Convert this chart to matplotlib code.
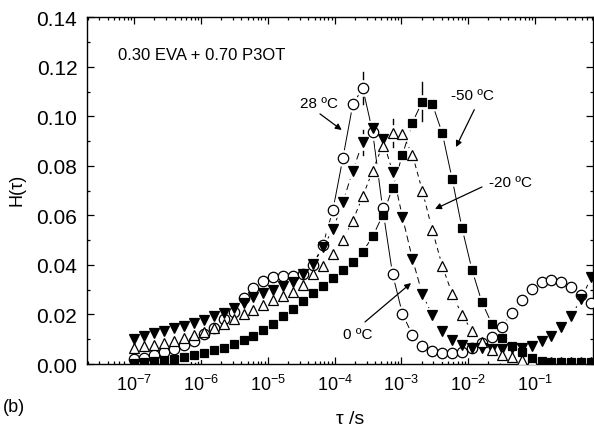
import matplotlib
matplotlib.use("Agg")
import matplotlib.pyplot as plt
import numpy as np
from matplotlib.ticker import LogLocator, MultipleLocator, NullFormatter

plt.rcParams["font.family"] = ["Liberation Sans", "DejaVu Sans"]
plt.rcParams["mathtext.default"] = "regular"

# log10(tau / s) of the relaxation-time grid (shared by all four curves)
log_tau = [-7.000, -6.851, -6.703, -6.554, -6.405, -6.257, -6.108, -5.959,
           -5.810, -5.662, -5.513, -5.364, -5.216, -5.067, -4.918, -4.770,
           -4.621, -4.472, -4.323, -4.175, -4.026, -3.877, -3.729, -3.580,
           -3.431, -3.283, -3.134, -2.985, -2.836, -2.688, -2.539, -2.390,
           -2.242, -2.093, -1.944, -1.796, -1.647, -1.498, -1.349, -1.201,
           -1.052, -0.903, -0.755, -0.606, -0.457, -0.309, -0.160]

# H(tau) at 28 C (open circles)
h_28 = [0.0020, 0.0024, 0.0038, 0.0050, 0.0060, 0.0078, 0.0094, 0.0121, 0.0145, 0.0182,
        0.0212, 0.0267, 0.0307, 0.0337, 0.0353, 0.0357, 0.0357, 0.0364, 0.0400, 0.0482,
        0.0622, 0.0832, 0.1048, 0.1114, 0.0936, 0.0630, 0.0364, 0.0202, 0.0117, 0.0074,
        0.0053, 0.0044, 0.0043, 0.0050, 0.0065, 0.0085, 0.0110, 0.0150, 0.0205, 0.0259,
        0.0302, 0.0333, 0.0341, 0.0333, 0.0310, 0.0279, 0.0246]
# 0 C (filled down triangles)
h_0 = [0.0101, 0.0115, 0.0124, 0.0135, 0.0144, 0.0155, 0.0166, 0.0179, 0.0193, 0.0206,
       0.0226, 0.0246, 0.0270, 0.0285, 0.0300, 0.0315, 0.0330, 0.0364, 0.0404, 0.0471,
       0.0545, 0.0653, 0.0781, 0.0896, 0.0952, 0.0909, 0.0777, 0.0593, 0.0424, 0.0283,
       0.0198, 0.0135, 0.0098, 0.0077, 0.0065, 0.0065, 0.0061, 0.0061, 0.0065, 0.0065,
       0.0074, 0.0094, 0.0115, 0.0148, 0.0195, 0.0263, 0.0350]
# -20 C (open up triangles)
h_m20 = [0.0063, 0.0071, 0.0077, 0.0085, 0.0094, 0.0105, 0.0117, 0.0128, 0.0144, 0.0162,
         0.0180, 0.0200, 0.0220, 0.0240, 0.0260, 0.0276, 0.0292, 0.0320, 0.0364, 0.0397,
         0.0444, 0.0502, 0.0579, 0.0677, 0.0781, 0.0882, 0.0933, 0.0929, 0.0845, 0.0700,
         0.0541, 0.0397, 0.0283, 0.0198, 0.0133, 0.0089, 0.0058, 0.0038, 0.0027, 0.0016,
         0.0016, 0.0008, 0.0007, 0.0007, 0.0007, 0.0007, 0.0007]
# -50 C (filled squares)
h_m50 = [0.0005, 0.0008, 0.0012, 0.0017, 0.0022, 0.0030, 0.0037, 0.0046, 0.0055, 0.0066,
         0.0080, 0.0095, 0.0115, 0.0137, 0.0163, 0.0192, 0.0222, 0.0253, 0.0286, 0.0316,
         0.0346, 0.0378, 0.0410, 0.0453, 0.0515, 0.0600, 0.0710, 0.0845, 0.0975, 0.1060,
         0.1050, 0.0933, 0.0748, 0.0548, 0.0380, 0.0250, 0.0162, 0.0104, 0.0074, 0.0047,
         0.0023, 0.0012, 0.0009, 0.0008, 0.0008, 0.0008, 0.0008]

# error bar on the peak point of each curve: (grid index, half-height)
err_28 = (23, 0.0065)
err_0 = (23, 0.0050)
err_m20 = (26, 0.0055)
err_m50 = (29, 0.0080)

decades = [-7, -6, -5, -4, -3, -2, -1]

tau = 10.0 ** np.array(log_tau)

fig = plt.figure(figsize=(5.94, 4.31), dpi=100)
ax = fig.add_axes([0.1465, 0.1531, 0.8519, 0.8044])

series = [
    (h_28, "o", "white", 7.5, "-", err_28),
    (h_0, "v", "black", 7.5, (0, (7, 4)), err_0),
    (h_m20, "^", "white", 7.5, (0, (5, 4)), err_m20),
    (h_m50, "s", "black", 6.0, "-", err_m50),
]

for h, mk, fc, ms, ls, (i, e) in series:
    ax.plot(tau, h, color="black", lw=0.7, ls=ls, zorder=1)
    ax.plot([tau[i], tau[i]], [h[i] - e, h[i] + e], color="black", lw=1.0, zorder=1)
# white halos leave a gap in the lines around each point
for h, mk, fc, ms, ls, _ in series:
    ax.plot(tau, h, ls="none", marker="o", ms=ms + 4.5, mfc="white", mec="none", zorder=2)
for h, mk, fc, ms, ls, _ in series:
    ax.plot(tau, h, ls="none", marker=mk, ms=ms, mfc=fc, mec="black", mew=0.9, zorder=3)

ax.set_xscale("log")
ax.set_xlim(10 ** -7.708, 10 ** -0.132)
ax.set_ylim(0, 0.14)
ax.set_xticks([10.0 ** d for d in decades])
ax.xaxis.set_minor_locator(LogLocator(base=10, subs=np.arange(2, 10), numticks=20))
ax.xaxis.set_minor_formatter(NullFormatter())
ax.yaxis.set_major_locator(MultipleLocator(0.02))
ax.yaxis.set_minor_locator(MultipleLocator(0.01))
ax.yaxis.set_major_formatter(lambda v, _: f"{v:.2f}")
ax.tick_params(which="both", direction="in", top=True, right=True, width=0.9)
ax.tick_params(which="major", length=5)
ax.tick_params(which="minor", length=2.5)
ax.tick_params(axis="y", labelsize=15, pad=7)
ax.tick_params(axis="x", labelsize=13, pad=7)
for s in ax.spines.values():
    s.set_linewidth(1.0)

ax.text(10 ** -7.25, 0.125, "0.30 EVA + 0.70 P3OT", fontsize=12, va="center")

arrow = dict(arrowstyle="-|>", color="black", lw=0.9, mutation_scale=9,
             shrinkA=0, shrinkB=0)
notes = [
    ("28 ºC", (-4.235, 0.1055), (-4.22, 0.1010), (-3.895, 0.0945)),
    ("-50 ºC", (-1.93, 0.1087), (-1.91, 0.1027), (-2.184, 0.0876)),
    ("-20 ºC", (-1.375, 0.0735), (-1.795, 0.0715), (-2.498, 0.0626)),
    ("0 ºC", (-3.656, 0.0121), (-3.546, 0.0170), (-2.857, 0.0327)),
]
for label, (lx, ly), (sx, sy), (hx, hy) in notes:
    ax.text(10 ** lx, ly, label, fontsize=11, ha="center", va="center")
    ax.annotate("", xy=(10 ** hx, hy), xytext=(10 ** sx, sy), arrowprops=arrow)

fig.text(350 / 594, 1 - 420 / 431, "τ /s", fontsize=14, ha="center", va="center")
fig.text(17 / 594, 1 - 190 / 431, "H(τ)", fontsize=13, ha="center", va="center",
         rotation=90)
fig.text(3 / 594, 1 - 408 / 431, "(b)", fontsize=13, ha="left", va="center")

fig.savefig("out.png", dpi=100)
